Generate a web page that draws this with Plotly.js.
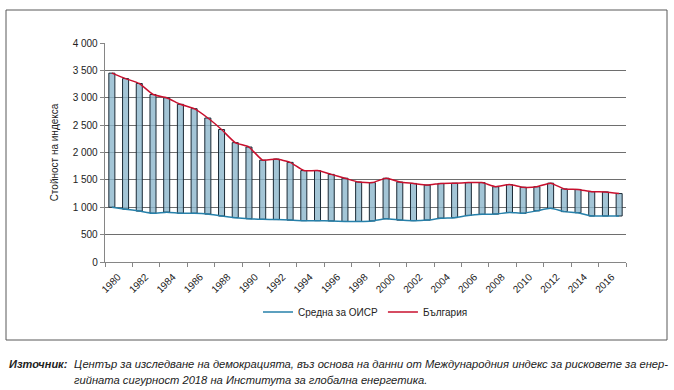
<!DOCTYPE html>
<html><head><meta charset="utf-8">
<script src="https://cdn.plot.ly/plotly-3.0.1.min.js"></script>
<style>html,body{margin:0;padding:0;background:#fff;}#chart{width:674px;height:390px;}</style>
</head><body><div id="chart"></div>
<script>
const years = [1980,1981,1982,1983,1984,1985,1986,1987,1988,1989,1990,1991,1992,1993,1994,1995,1996,1997,1998,1999,2000,2001,2002,2003,2004,2005,2006,2007,2008,2009,2010,2011,2012,2013,2014,2015,2016,2017];
const bulgaria = [3450,3350,3260,3060,3000,2880,2800,2630,2420,2180,2100,1860,1880,1820,1670,1670,1600,1530,1460,1450,1530,1460,1435,1405,1435,1440,1450,1450,1375,1415,1365,1375,1440,1335,1325,1285,1280,1250];
const oecd = [1000,965,930,890,910,890,890,875,840,810,790,780,775,765,755,755,750,740,740,750,790,765,755,765,800,810,850,870,875,905,890,935,980,920,900,840,840,840];
const tickYears = [1980,1982,1984,1986,1988,1990,1992,1994,1996,1998,2000,2002,2004,2006,2008,2010,2012,2014,2016];
const nameOECD = 'Средна за ОИСР';
const nameBG = 'България';
const yTitle = 'Стойност на индекса';
const sourceLabel = 'Източник:';
const sourceLine1 = 'Център за изследване на демокрацията, въз основа на данни от Международния индекс за рисковете за енер-';
const sourceLine2 = 'гийната сигурност 2018 на Института за глобална енергетика.';

// plot geometry (pixels)
const L = 105, R = 48, T = 43, B = 128, W = 674, H = 390;
const pw = W - L - R, ph = H - T - B;
const px = x => (x - L) / pw;
const py = y => (H - B - y) / ph;

const font = 'Liberation Sans, Arial, sans-serif';

const bars = {
  type: 'bar', x: years,
  y: bulgaria.map((v, i) => v - oecd[i]),
  base: oecd,
  width: 0.44,
  marker: {color: 'rgba(140,183,204,0.8)', line: {color: '#1b2a36', width: 1}},
  showlegend: false, hoverinfo: 'skip'
};
const lineOECD = {
  type: 'scatter', mode: 'lines', x: years, y: oecd, name: nameOECD,
  line: {color: '#2680aa', width: 1.5, shape: 'spline', smoothing: 0.5}
};
const lineBG = {
  type: 'scatter', mode: 'lines', x: years, y: bulgaria, name: nameBG,
  line: {color: '#c8102e', width: 1.5, shape: 'spline', smoothing: 0.5}
};

const tickvals = tickYears.map(y => y - 0.5).concat([2017.5]);
const ticktext = tickYears.map(String).concat(['']);

const layout = {
  width: W, height: H,
  margin: {l: L, r: R, t: T, b: B},
  paper_bgcolor: '#fff', plot_bgcolor: '#fff',
  font: {family: font, size: 10, color: '#222'},
  separators: ', ',
  bargap: 0.5,
  showlegend: true,
  legend: {orientation: 'h', x: 0.5, xanchor: 'center', y: py(312), yanchor: 'middle',
    font: {family: font, size: 10, color: '#222'}, traceorder: 'normal'},
  xaxis: {
    range: [1979.5, 2017.5], tickmode: 'array', tickvals: tickvals, ticktext: ticktext,
    tickangle: -45, ticks: 'outside', ticklen: 4, tickcolor: '#868686', tickwidth: 1,
    ticklabelshift: 13,
    showline: true, linecolor: '#868686', linewidth: 1.3, showgrid: false, zeroline: false,
    tickfont: {family: font, size: 10, color: '#222'}
  },
  yaxis: {
    range: [0, 4000], tickmode: 'linear', tick0: 0, dtick: 500,
    tickformat: ',d', separatethousands: true,
    ticks: 'outside', ticklen: 4, tickcolor: '#868686',
    showline: true, linecolor: '#868686', linewidth: 1.3,
    showgrid: true, gridcolor: '#6e6e6e', gridwidth: 1.2, zeroline: false,
    tickfont: {family: font, size: 10, color: '#222'},
    title: {text: yTitle, font: {family: font, size: 10, color: '#222'}, standoff: 12}
  },
  shapes: [{type: 'rect', xref: 'paper', yref: 'paper', x0: px(6), x1: px(667), y0: py(340), y1: py(10),
    line: {color: '#595959', width: 1}, fillcolor: 'rgba(0,0,0,0)', layer: 'below'}],
  annotations: [
    {xref: 'paper', yref: 'paper', x: px(7), y: py(364), xanchor: 'left', yanchor: 'middle', showarrow: false,
     text: '<b><i>' + sourceLabel + '</i></b>', font: {family: font, size: 11, color: '#222'}},
    {xref: 'paper', yref: 'paper', x: px(72), y: py(364), xanchor: 'left', yanchor: 'middle', showarrow: false,
     text: '<i>' + sourceLine1 + '</i>', font: {family: font, size: 11.2, color: '#222'}},
    {xref: 'paper', yref: 'paper', x: px(72), y: py(380), xanchor: 'left', yanchor: 'middle', showarrow: false,
     text: '<i>' + sourceLine2 + '</i>', font: {family: font, size: 11.2, color: '#222'}}
  ]
};

Plotly.newPlot('chart', [bars, lineOECD, lineBG], layout, {displayModeBar: false, staticPlot: true});
</script>
</body></html>
